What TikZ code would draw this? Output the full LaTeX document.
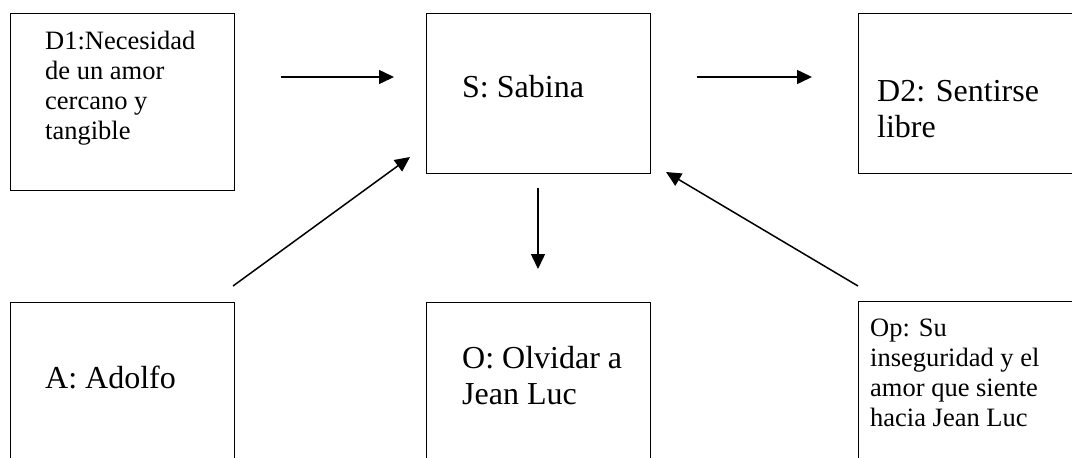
\documentclass[tikz,border=0pt]{standalone}
\usepackage{fontspec}
\setmainfont{Liberation Serif}
\usetikzlibrary{arrows.meta}

\begin{document}
\begin{tikzpicture}[x=1pt, y=-1pt,
box/.style={draw=black, line width=1.4pt, anchor=north west, inner sep=0pt, minimum width=224pt},
bigtxt/.style={align=left, inner sep=0pt, font=\fontsize{32}{36}\selectfont},
smalltxt/.style={align=left, inner sep=0pt, font=\fontsize{26.5}{30}\selectfont},
arr/.style={line width=1.5pt, -{Triangle[length=15pt, width=14pt]}}
]
\useasboundingbox (0,0) rectangle (1072,458);
\clip (0,0) rectangle (1072,458);

%Nodes
\node[box, minimum height=177pt] (d1)  at (10,13)  {};
\node[box, minimum height=160pt] (s)   at (426,13) {};
\node[box, minimum height=160pt] (d2)  at (858,13) {};
\node[box, minimum height=200pt] (a)   at (10,302) {};
\node[box, minimum height=200pt] (o)   at (426,302) {};
\node[box, minimum height=200pt] (op)  at (858,301) {};

\node[smalltxt, anchor=north west] (d1txt) at (45,30.5)  {D1:Necesidad\\de un amor\\cercano y\\tangible};
\node[bigtxt, anchor=base west]    (stxt)  at (462,97) {S: Sabina};
\node[bigtxt, anchor=north west]   (d2txt) at (877,80.5) {D2: Sentirse\\libre};
\node[bigtxt, anchor=base west]    (atxt)  at (45,388) {A: Adolfo};
\node[bigtxt, anchor=north west]   (otxt)  at (462,346) {O: Olvidar a\\Jean Luc};
\node[smalltxt, anchor=north west] (optxt) at (870,318.5) {Op: Su\\inseguridad y el\\amor que siente\\hacia Jean Luc};

\coordinate (d1out) at (281,77);
\coordinate (sin1)  at (394,77);
\coordinate (sout1) at (697,77);
\coordinate (d2in)  at (812,77);
\coordinate (aout)  at (233,286);
\coordinate (sin2)  at (410,157);
\coordinate (sout2) at (538,188);
\coordinate (oin)   at (538,269);
\coordinate (opout) at (858,286);
\coordinate (sin3)  at (666,172);

%Lines
\draw[arr] (d1out) -- (sin1);
\draw[arr] (sout1) -- (d2in);
\draw[arr] (aout) -- (sin2);
\draw[arr] (sout2) -- (oin);
\draw[arr] (opout) -- (sin3);
\end{tikzpicture}
\end{document}
